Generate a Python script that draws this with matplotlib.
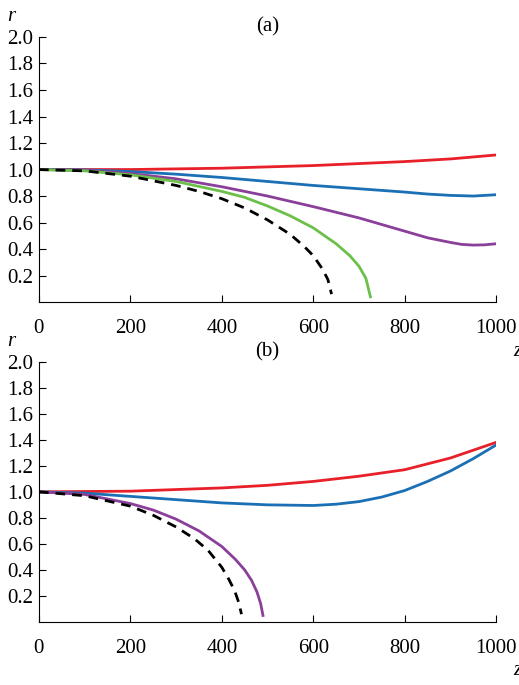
import matplotlib
matplotlib.use("Agg")
import matplotlib.pyplot as plt

plt.rcParams['font.family'] = ['Liberation Serif', 'DejaVu Serif']
plt.rcParams['font.size'] = 15

# panel (a)
za_red = [0, 200, 400, 600, 800, 900, 1000]
ra_red = [1.0, 1.0, 1.01, 1.03, 1.06, 1.08, 1.11]
za_blue = [0, 100, 200, 300, 400, 500, 600, 700, 800, 850, 900, 950, 1000]
ra_blue = [1.0, 0.997, 0.985, 0.965, 0.94, 0.91, 0.88, 0.855, 0.83, 0.815, 0.805, 0.80, 0.81]
za_purple = [0, 100, 200, 300, 400, 500, 600, 700, 750, 800, 850, 900, 925, 950, 975, 1000]
ra_purple = [1.0, 0.995, 0.97, 0.93, 0.87, 0.80, 0.72, 0.635, 0.585, 0.535, 0.485, 0.45, 0.435, 0.43, 0.432, 0.44]
za_green = [0, 100, 200, 300, 400, 450, 500, 550, 600, 650, 680, 700, 715, 725]
ra_green = [1.0, 0.99, 0.96, 0.91, 0.835, 0.79, 0.725, 0.65, 0.56, 0.44, 0.35, 0.27, 0.18, 0.04]
za_black = [0, 100, 200, 300, 350, 400, 450, 500, 550, 580, 600, 620, 632, 640]
ra_black = [1.0, 0.99, 0.95, 0.88, 0.835, 0.78, 0.71, 0.62, 0.51, 0.42, 0.35, 0.25, 0.17, 0.06]

# panel (b)
zb_red = [0, 200, 400, 500, 600, 700, 800, 900, 1000]
rb_red = [1.0, 1.005, 1.03, 1.05, 1.08, 1.12, 1.17, 1.26, 1.38]
zb_blue = [0, 100, 200, 300, 400, 500, 600, 650, 700, 750, 800, 850, 900, 950, 1000]
rb_blue = [1.0, 0.99, 0.965, 0.94, 0.915, 0.90, 0.895, 0.905, 0.925, 0.96, 1.01, 1.08, 1.16, 1.255, 1.36]
zb_purple = [0, 100, 200, 250, 300, 350, 400, 430, 450, 465, 477, 485, 490]
rb_purple = [1.0, 0.98, 0.91, 0.86, 0.79, 0.70, 0.58, 0.48, 0.40, 0.32, 0.23, 0.14, 0.05]
zb_black = [0, 100, 200, 250, 300, 340, 370, 400, 415, 428, 437, 443]
rb_black = [1.0, 0.97, 0.89, 0.82, 0.73, 0.64, 0.55, 0.42, 0.33, 0.24, 0.15, 0.06]

xticks = [0, 200, 400, 600, 800, 1000]
yticks = [0.2, 0.4, 0.6, 0.8, 1.0, 1.2, 1.4, 1.6, 1.8, 2.0]

RED, BLUE, PURPLE, GREEN = '#e8202a', '#1a6fb5', '#8a3f9a', '#6cc04a'

fig = plt.figure(figsize=(5.19, 6.85), dpi=100)
axa = fig.add_axes([0.075, 0.559, 0.881, 0.387])
axb = fig.add_axes([0.075, 0.092, 0.881, 0.380])

def style(ax, label):
    ax.set_xlim(0, 1000)
    ax.set_ylim(0, 2.0)
    ax.set_xticks(xticks)
    ax.set_yticks(yticks)
    ax.set_yticklabels([f"{v:.1f}" for v in yticks])
    ax.spines['top'].set_visible(False)
    ax.spines['right'].set_visible(False)
    ax.tick_params(direction='in', length=5, pad=4)
    ax.tick_params(axis='x', pad=12)
    ax.text(-0.06, 1.06, 'r', transform=ax.transAxes, style='italic', ha='center')
    ax.text(0.5, 1.02, label, transform=ax.transAxes, ha='center')
    ax.text(1.055, -0.185, 'z', transform=ax.transAxes, ha='right', va='center',
            style='italic')
    ax.text(1.055, -0.185, ', m', transform=ax.transAxes, ha='left', va='center')

lw = 2
axa.plot(za_red, ra_red, color=RED, lw=lw)
axa.plot(za_blue, ra_blue, color=BLUE, lw=lw)
axa.plot(za_purple, ra_purple, color=PURPLE, lw=lw)
axa.plot(za_green, ra_green, color=GREEN, lw=lw)
axa.plot(za_black, ra_black, color='black', lw=lw, ls=(0, (3.5, 2.5)))
style(axa, '(a)')

axb.plot(zb_red, rb_red, color=RED, lw=lw)
axb.plot(zb_blue, rb_blue, color=BLUE, lw=lw)
axb.plot(zb_purple, rb_purple, color=PURPLE, lw=lw)
axb.plot(zb_black, rb_black, color='black', lw=lw, ls=(0, (3.5, 2.5)))
style(axb, '(b)')

fig.savefig('out.png', dpi=100)
